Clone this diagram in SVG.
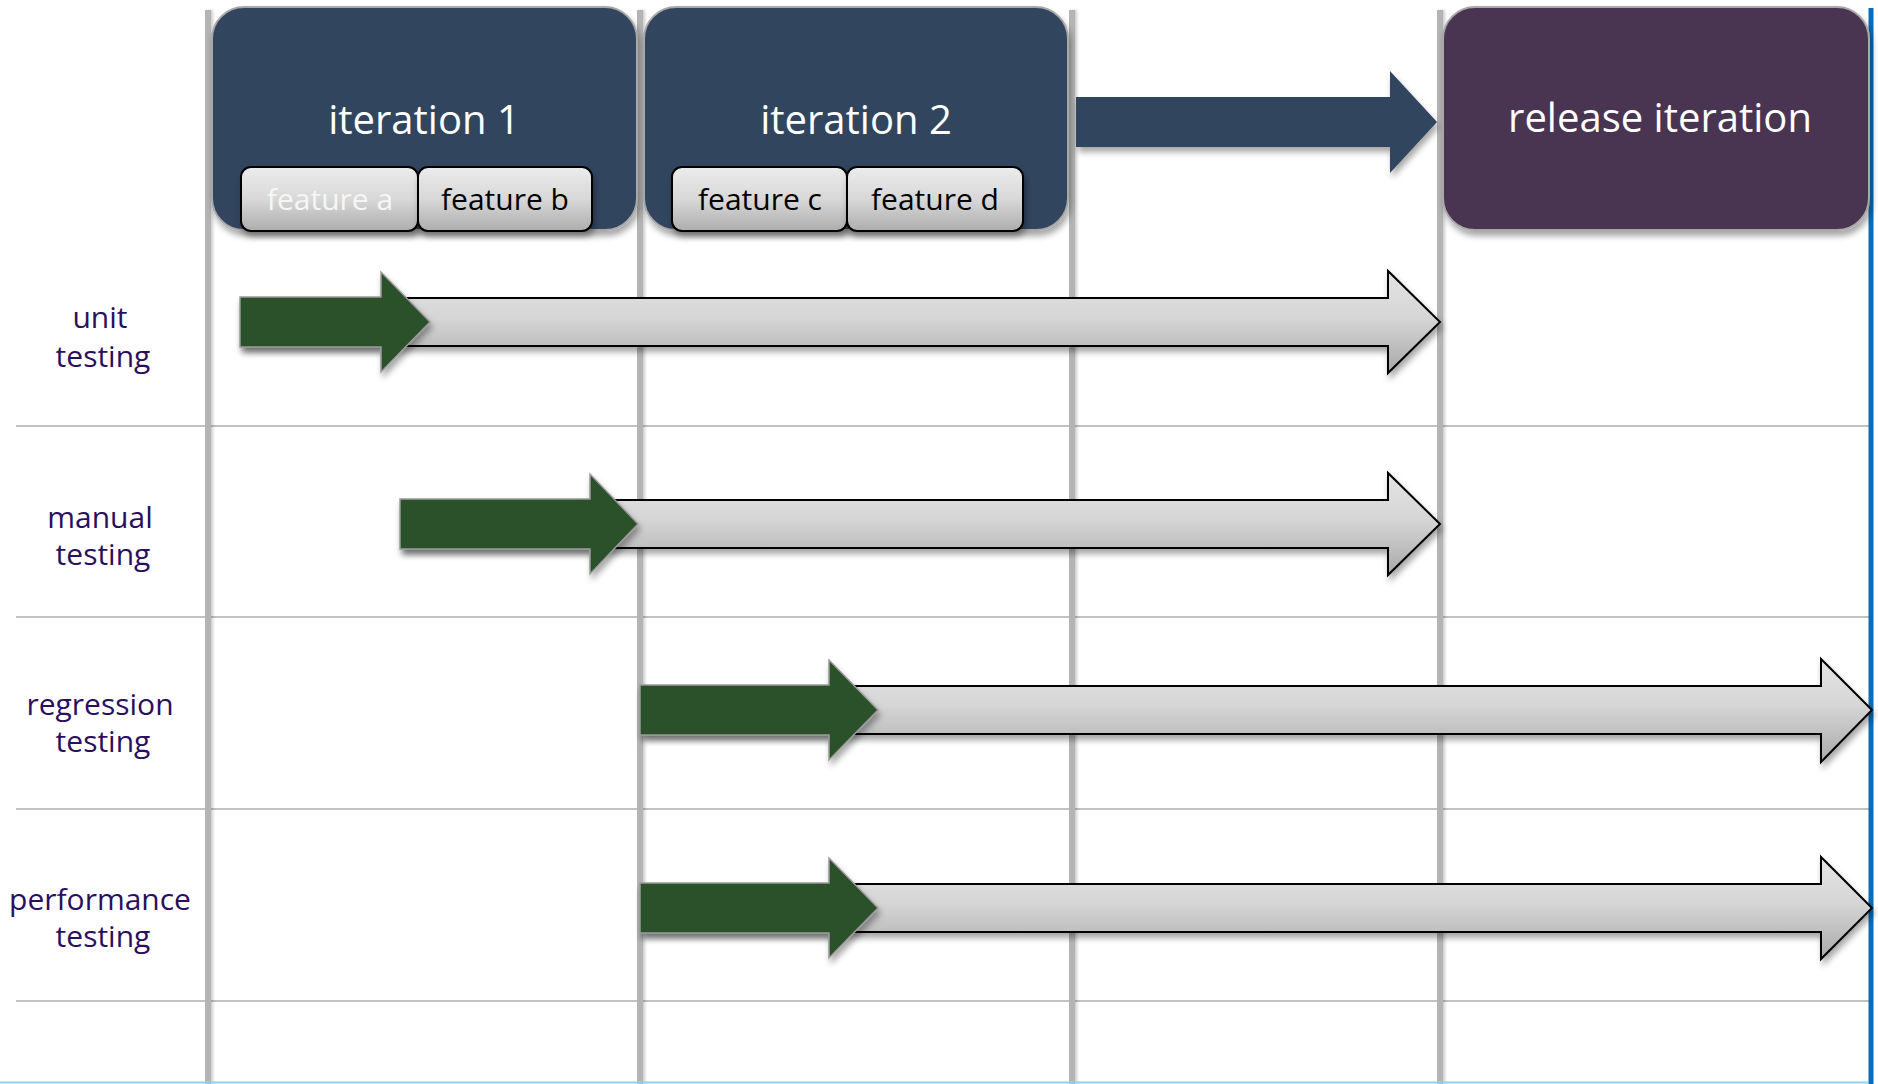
<svg xmlns="http://www.w3.org/2000/svg" width="1878" height="1084" viewBox="0 0 1878 1084">
<defs>
<style>
.vline{stroke:#b4b4b4;stroke-width:6;}
.hline{stroke:#c2c2c2;stroke-width:2;}
.title{font-family:"Open Sans","Noto Sans",sans-serif;font-size:40px;fill:#ffffff;text-anchor:middle;}
.feat{font-family:"Open Sans","Noto Sans",sans-serif;font-size:30px;fill:#000000;text-anchor:middle;}
.lbl{font-family:"Open Sans","Noto Sans",sans-serif;font-size:30px;fill:#2b0f5e;text-anchor:middle;}
.iter{fill:#32455f;stroke:#a8a8a8;stroke-width:2;}
.rel{fill:#4a3651;stroke:#a8a8a8;stroke-width:2;}
.btn{fill:url(#btnGrad);stroke:#000000;stroke-width:2;}
.garrow{fill:url(#grayGrad);stroke:#000000;stroke-width:2;}
.green{fill:#2b512b;stroke:#9a9a9a;stroke-width:1.5;}
</style>
<linearGradient id="grayGrad" x1="0" y1="0" x2="0" y2="1">
<stop offset="0" stop-color="#e4e4e4"/>
<stop offset="0.45" stop-color="#d6d6d6"/>
<stop offset="1" stop-color="#a9a9a9"/>
</linearGradient>
<linearGradient id="btnGrad" x1="0" y1="0" x2="0" y2="1">
<stop offset="0" stop-color="#ececec"/>
<stop offset="0.5" stop-color="#d8d8d8"/>
<stop offset="1" stop-color="#adadad"/>
</linearGradient>
<filter id="shadow" x="-10%" y="-20%" width="120%" height="150%">
<feDropShadow dx="2" dy="5" stdDeviation="3" flood-color="#000000" flood-opacity="0.35"/>
</filter>
<filter id="lshadow" x="-50%" y="-5%" width="200%" height="110%">
<feDropShadow dx="2" dy="0" stdDeviation="1.5" flood-color="#000000" flood-opacity="0.2"/>
</filter>
</defs>
<rect x="0" y="0" width="1878" height="1084" fill="#ffffff"/>

<g id="grid">
<line class="hline" x1="16" y1="426" x2="1869" y2="426"/>
<line class="hline" x1="16" y1="617" x2="1869" y2="617"/>
<line class="hline" x1="16" y1="809" x2="1869" y2="809"/>
<line class="hline" x1="16" y1="1001" x2="1869" y2="1001"/>
<g filter="url(#lshadow)">
<line class="vline" x1="208" y1="10" x2="208" y2="1084"/>
<line class="vline" x1="640" y1="10" x2="640" y2="1084"/>
<line class="vline" x1="1072" y1="10" x2="1072" y2="1084"/>
<line class="vline" x1="1440" y1="10" x2="1440" y2="1084"/>
</g>
<line x1="1871" y1="8" x2="1871" y2="1084" stroke="#0b6db8" stroke-width="5"/>
<line x1="0" y1="1082.5" x2="1868" y2="1082.5" stroke="#8fd3ea" stroke-width="2"/>
</g>

<g id="iteration-1">
<rect class="iter" x="212" y="7" width="425" height="223" rx="32" filter="url(#shadow)"/>
<text class="title" x="424" y="134">iteration 1</text>
</g>
<g id="iteration-2">
<rect class="iter" x="644" y="7" width="424" height="223" rx="32" filter="url(#shadow)"/>
<text class="title" x="856" y="134">iteration 2</text>
</g>
<g id="release-iteration">
<rect class="rel" x="1443" y="7" width="426" height="223" rx="32" filter="url(#shadow)"/>
<text class="title" x="1660" y="132">release iteration</text>
</g>

<g id="feature-a">
<rect class="btn" x="241" y="167" width="177" height="64" rx="10" filter="url(#shadow)"/>
<text class="feat" x="330" y="210" style="fill:#f6f6f6">feature a</text>
</g>
<g id="feature-b">
<rect class="btn" x="418" y="167" width="174" height="64" rx="10" filter="url(#shadow)"/>
<text class="feat" x="505" y="210">feature b</text>
</g>
<g id="feature-c">
<rect class="btn" x="672" y="167" width="175" height="64" rx="10" filter="url(#shadow)"/>
<text class="feat" x="760" y="210">feature c</text>
</g>
<g id="feature-d">
<rect class="btn" x="847" y="167" width="176" height="64" rx="10" filter="url(#shadow)"/>
<text class="feat" x="935" y="210">feature d</text>
</g>

<g id="label-unit">
<text class="lbl" x="100" y="328">unit</text>
<text class="lbl" x="103" y="367">testing</text>
</g>
<g id="label-manual">
<text class="lbl" x="100" y="528">manual</text>
<text class="lbl" x="103" y="565">testing</text>
</g>
<g id="label-regression">
<text class="lbl" x="100" y="715">regression</text>
<text class="lbl" x="103" y="752">testing</text>
</g>
<g id="label-performance">
<text class="lbl" x="100" y="910">performance</text>
<text class="lbl" x="103" y="947">testing</text>
</g>

<g id="connectors">
<path id="iteration-flow" d="M1076,97 H1390 V71 L1437,122 L1390,173 V147 H1076 Z" fill="#32455f" filter="url(#shadow)"/>
<path class="garrow" d="M242,298 H1388 V271 L1440,322 L1388,373 V346 H242 Z" filter="url(#shadow)"/>
<path class="green" d="M240,297 H381 V272 L430,322 L381,372 V347 H240 Z" filter="url(#shadow)"/>
<path class="garrow" d="M402,500 H1388 V473 L1440,524 L1388,575 V548 H402 Z" filter="url(#shadow)"/>
<path class="green" d="M400,499 H590 V474 L638,524 L590,574 V549 H400 Z" filter="url(#shadow)"/>
<path class="garrow" d="M642,686 H1821 V659 L1872,710 L1821,762 V734 H642 Z" filter="url(#shadow)"/>
<path class="green" d="M640,685 H829 V660 L878,710 L829,760 V735 H640 Z" filter="url(#shadow)"/>
<path class="garrow" d="M642,884 H1821 V857 L1872,908 L1821,959 V932 H642 Z" filter="url(#shadow)"/>
<path class="green" d="M640,883 H829 V858 L878,908 L829,958 V933 H640 Z" filter="url(#shadow)"/>
</g>
</svg>
